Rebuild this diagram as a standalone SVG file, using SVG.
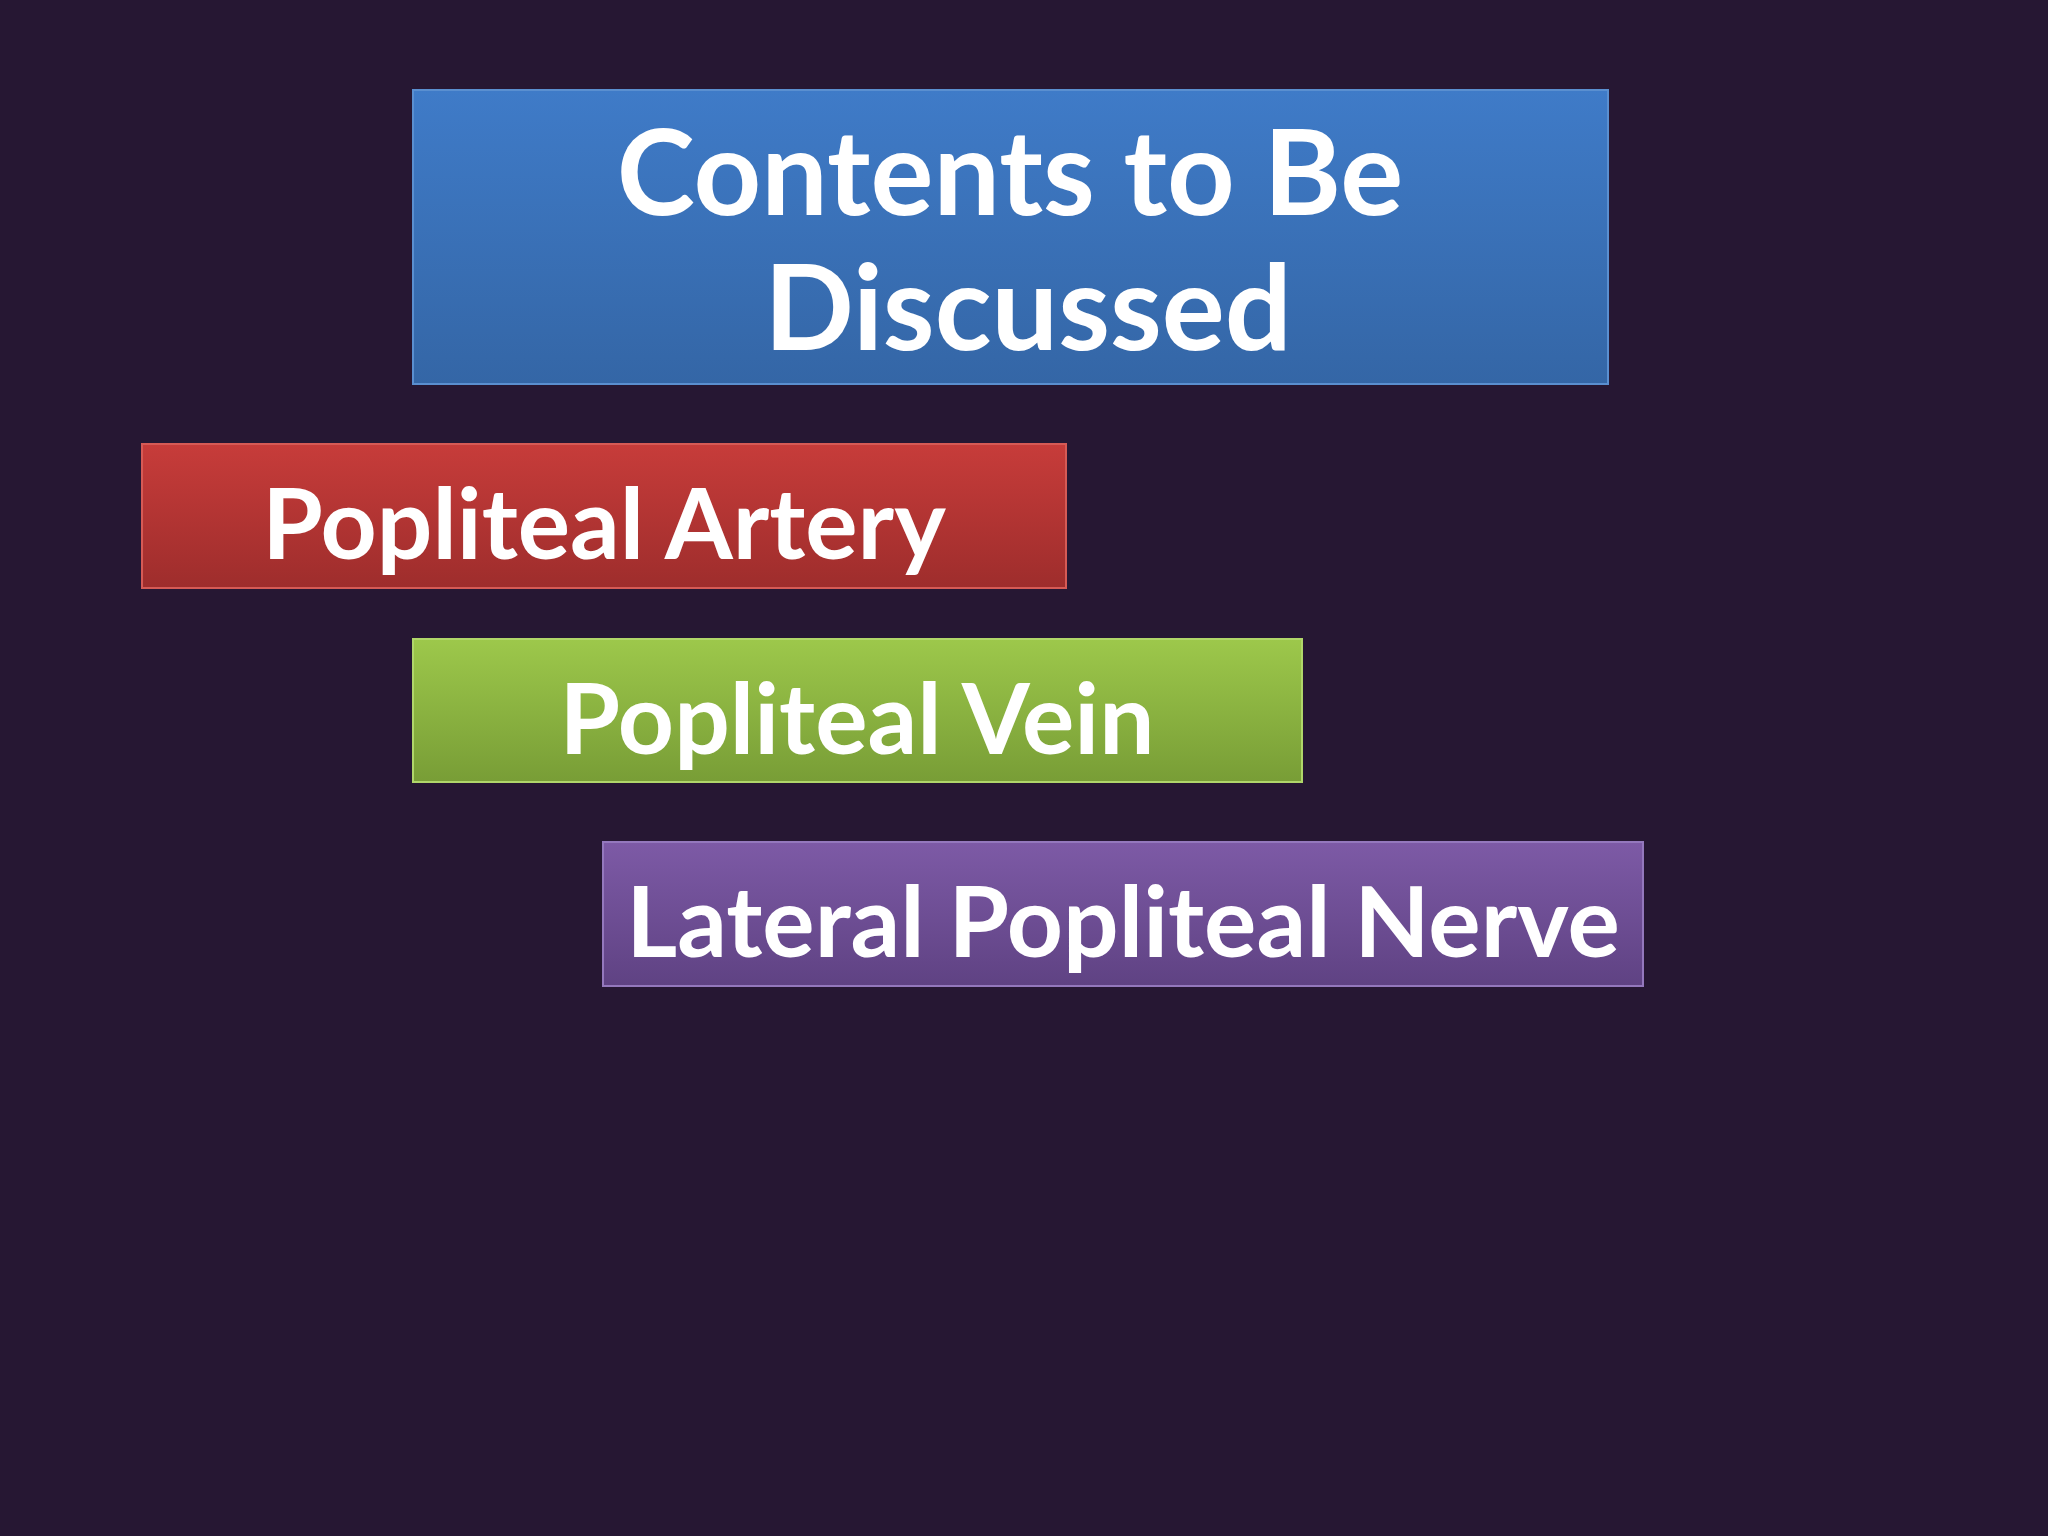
<svg xmlns="http://www.w3.org/2000/svg" width="2048" height="1536" viewBox="0 0 2048 1536">
<defs>
<linearGradient id="gb" x1="0" y1="0" x2="0" y2="1"><stop offset="0" stop-color="#3f7bc8"/><stop offset="1" stop-color="#3466a6"/></linearGradient>
<linearGradient id="gr" x1="0" y1="0" x2="0" y2="1"><stop offset="0" stop-color="#c73c3a"/><stop offset="1" stop-color="#9e2d2c"/></linearGradient>
<linearGradient id="gg" x1="0" y1="0" x2="0" y2="1"><stop offset="0" stop-color="#9dc84b"/><stop offset="1" stop-color="#789d36"/></linearGradient>
<linearGradient id="gp" x1="0" y1="0" x2="0" y2="1"><stop offset="0" stop-color="#7d5aa6"/><stop offset="1" stop-color="#5f4283"/></linearGradient>
<style>text{font-family:Lato,"Liberation Sans",sans-serif;font-weight:bold;fill:#fff;text-anchor:middle}</style>
</defs>
<rect width="2048" height="1536" fill="#261733"/>
<g id="title"><rect x="413" y="90" width="1195" height="294" fill="url(#gb)" stroke="#5a8fd0" stroke-width="2"/>
<text x="1010" y="215" font-size="118">Contents to Be</text><text x="1028" y="350" font-size="118">Discussed</text></g>
<g id="artery"><rect x="142" y="444" width="924" height="144" fill="url(#gr)" stroke="#d65a55" stroke-width="2"/>
<text x="604" y="559" font-size="98">Popliteal Artery</text></g>
<g id="vein"><rect x="413" y="639" width="889" height="143" fill="url(#gg)" stroke="#b0d66a" stroke-width="2"/>
<text x="857" y="754" font-size="98">Popliteal Vein</text></g>
<g id="nerve"><rect x="603" y="842" width="1040" height="144" fill="url(#gp)" stroke="#9478bd" stroke-width="2"/>
<text x="1123" y="957" font-size="98">Lateral Popliteal Nerve</text></g>
<g id="connectors"/>
</svg>
